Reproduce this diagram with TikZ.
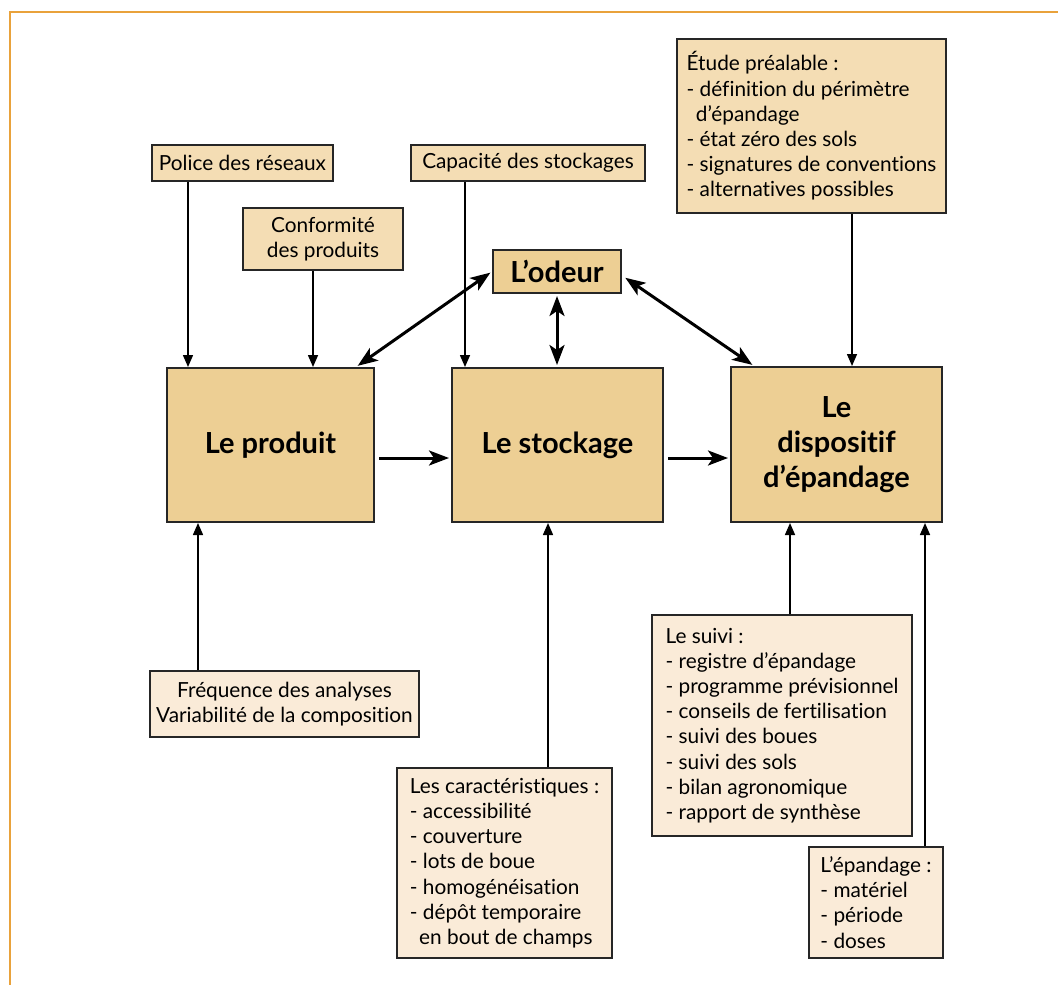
\documentclass[tikz,border=0pt]{standalone}
\usepackage{fontspec}
\setmainfont{Lato}[Ligatures=NoCommon]
\usetikzlibrary{arrows.meta}
\definecolor{cadre}{HTML}{E9A23B}
\definecolor{fonce}{HTML}{EDCF94}
\definecolor{clair}{HTML}{F4DDB4}
\definecolor{creme}{HTML}{FAEBD8}
\tikzset{
  boite/.style={draw=black!85, line width=1pt, inner sep=3pt},
  principal/.style={boite, fill=fonce, align=center, font=\fontsize{14.5}{17.5}\selectfont\bfseries},
  facteur/.style={boite, fill=clair, font=\fontsize{10.4}{12.6}\selectfont},
  detail/.style={boite, fill=creme, font=\fontsize{10.4}{12.6}\selectfont},
  fin/.style={-{Triangle[length=6pt,width=5pt]}, line width=0.75pt},
  gros/.style={-{Stealth[length=10pt,width=7.5pt,inset=2.5pt]}, line width=1.5pt},
  double/.style={{Stealth[length=10pt,width=7.5pt,inset=2.5pt]}-{Stealth[length=10pt,width=7.5pt,inset=2.5pt]}, line width=1.5pt}
}
\begin{document}
\begin{tikzpicture}[x=0.5pt,y=-0.5pt]
  \useasboundingbox (0,0) rectangle (1058,985);
  % cadre orange
  \draw[cadre, line width=1pt] (1058,12) -- (10,12) -- (10,985);

  % les trois blocs principaux et l'odeur
  \node[principal, minimum width=103.5pt, minimum height=77pt] at (270.5,445) (produit) {Le produit};
  \node[principal, minimum width=105.5pt, minimum height=77pt] at (557.5,445) (stockage) {Le stockage};
  \node[principal, minimum width=105.5pt, minimum height=77.5pt] at (836.5,444.5) (dispositif) {Le\\dispositif\\d’épandage};
  \node[principal, minimum width=64pt, minimum height=21.5pt] at (557,271.5) (odeur) {L’odeur};

  % facteurs du haut
  \node[facteur, minimum width=90.5pt, minimum height=18pt] at (242.5,163) (police) {Police des réseaux};
  \node[facteur, align=center, minimum width=80pt, minimum height=31pt] at (323,239) (conformite) {Conformité\\des produits};
  \node[facteur, minimum width=117pt, minimum height=18pt] at (528,163) (capacite) {Capacité des stockages};
  \node[facteur, align=left, minimum width=134.5pt, minimum height=87pt] at (811.5,126) (etude)
    {Étude préalable :\\- définition du périmètre\\\hspace*{0.45em}d’épandage\\- état zéro des sols\\- signatures de conventions\\- alternatives possibles};

  % détails du bas
  \node[detail, align=center, minimum width=134.5pt, minimum height=33pt] at (284.5,704) (frequence)
    {Fréquence des analyses\\Variabilité de la composition};
  \node[detail, align=left, minimum width=107.5pt, minimum height=95pt] at (504.5,863) (caract)
    {Les caractéristiques :\\- accessibilité\\- couverture\\- lots de boue\\- homogénéisation\\- dépôt temporaire\\\hspace*{0.45em}en bout de champs};
  \node[detail, align=left, minimum width=130pt, minimum height=110.5pt] at (782,725.5) (suivi)
    {Le suivi :\\- registre d’épandage\\- programme prévisionnel\\- conseils de fertilisation\\- suivi des boues\\- suivi des sols\\- bilan agronomique\\- rapport de synthèse};
  \node[detail, align=left, minimum width=67pt, minimum height=55.5pt] at (876,902.5) (epandage)
    {L’épandage :\\- matériel\\- période\\- doses};

  % flux principal
  \draw[gros, shorten <=2pt, shorten >=1pt] ([yshift=-6.5pt]produit.east) -- ([yshift=-6.5pt]produit.east -| stockage.west);
  \draw[gros, shorten <=2pt, shorten >=1pt] ([yshift=-6.5pt]stockage.east) -- ([yshift=-6.5pt]stockage.east -| dispositif.west);

  % l'odeur
  \draw[double, shorten <=1pt, shorten >=1pt] ([xshift=-9.5pt]produit.north east) -- (odeur.west);
  \draw[double, shorten <=1pt, shorten >=1pt] (odeur.south) -- (odeur.south |- stockage.north);
  \draw[double, shorten <=2pt, shorten >=1pt] ([yshift=-2pt]odeur.east) -- ([xshift=12pt]dispositif.north west);

  % fleches fines du haut
  \draw[fin] ([xshift=18.5pt]police.south west) -- ([xshift=18.5pt]police.south west |- produit.north);
  \draw[fin] ([xshift=-5pt]conformite.south) -- ([xshift=-5pt]conformite.south |- produit.north);
  \draw[fin] ([xshift=27.5pt]capacite.south west) -- ([xshift=27.5pt]capacite.south west |- stockage.north);
  \draw[fin] ([xshift=88pt]etude.south west) -- ([xshift=88pt]etude.south west |- dispositif.north);

  % fleches fines du bas
  \draw[fin] ([xshift=24.5pt]frequence.north west) -- ([xshift=24.5pt]frequence.north west |- produit.south);
  \draw[fin] ([xshift=76pt]caract.north west) -- ([xshift=76pt]caract.north west |- stockage.south);
  \draw[fin] ([xshift=69.5pt]suivi.north west) -- ([xshift=69.5pt]suivi.north west |- dispositif.south);
  \draw[fin] ([xshift=58.5pt]epandage.north west) -- ([xshift=58.5pt]epandage.north west |- dispositif.south);
\end{tikzpicture}
\end{document}
